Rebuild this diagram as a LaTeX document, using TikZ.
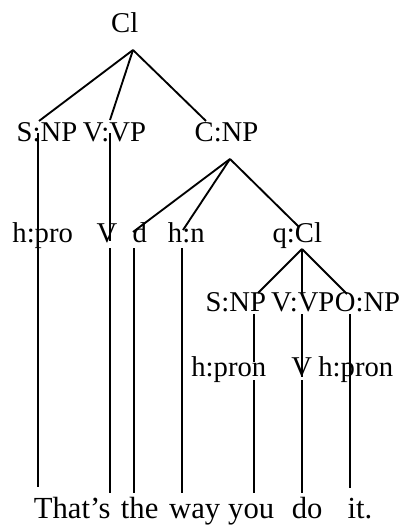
\documentclass[tikz,border=0pt]{standalone}
\usepackage{fontspec}
\setmainfont{Liberation Serif}

\begin{document}
\begin{tikzpicture}
  [x=0.75pt,y=-0.75pt,
   every node/.style={inner sep=0pt,anchor=base,font=\fontsize{21.5}{26}\selectfont},
   connect/.style={line width=1.4pt},
   word/.style={font=\fontsize{23}{28}\selectfont}]
  \useasboundingbox (0,0) rectangle (409,527);

  % main clause
  \node (cl) at (124.7,33) {Cl};
  \node (snp) at (47,141.7) {S:NP};
  \node (vvp) at (114.5,141.7) {V:VP};
  \node (cnp) at (226.5,141.7) {C:NP};
  \coordinate (cl-b) at (133,50);
  \coordinate (snp-t) at (39,121);
  \coordinate (vvp-t) at (110,120);
  \coordinate (cnp-t) at (206,121);
  \path (cl-b) edge [connect] (snp-t)
               edge [connect] (vvp-t)
               edge [connect] (cnp-t);

  % heads and the complement group
  \node (hpro) at (42.7,242.7) {h:pro};
  \node (v1) at (107,242.7) {V};
  \node (d) at (139.7,242.7) {d};
  \node (hn) at (186.3,242.7) {h:n};
  \node (qcl) at (297.3,242.7) {q:Cl};
  \coordinate (cnp-b) at (230,159);
  \coordinate (d-t) at (133,232);
  \coordinate (hn-t) at (183,230);
  \coordinate (qcl-t) at (299,227);
  \path (cnp-b) edge [connect] (d-t)
                edge [connect] (hn-t)
                edge [connect] (qcl-t);

  % embedded clause
  \node (snp2) at (235.8,311.7) {S:NP};
  \node (vvp2) at (302.8,311.7) {V:VP};
  \node (onp) at (367.5,311.7) {O:NP};
  \coordinate (qcl-b) at (302,249);
  \coordinate (snp2-t) at (258,293);
  \coordinate (vvp2-t) at (302,295);
  \coordinate (onp-t) at (347,294);
  \path (qcl-b) edge [connect] (snp2-t)
                edge [connect] (vvp2-t)
                edge [connect] (onp-t);

  \node (hpron1) at (228.8,376.7) {h:pron};
  \node (v2) at (301.7,376.7) {V};
  \node (hpron2) at (355.8,376.7) {h:pron};

  % the sentence
  \node [word] (w1) at (72.2,518.3) {That’s};
  \node [word] (w2) at (139.7,518.3) {the};
  \node [word] (w3) at (194.7,518.3) {way};
  \node [word] (w4) at (251.2,518.3) {you};
  \node [word] (w5) at (307.2,518.3) {do};
  \node [word] (w6) at (360,518.3) {it.};

  % vertical links down to the words
  \coordinate (snp-b) at (38,133);
  \coordinate (w1-t) at (38,487);
  \coordinate (vvp-b) at (110,133);
  \coordinate (v1-t) at (110,241);
  \coordinate (v1-b) at (110,248);
  \coordinate (w1-e) at (110,493);
  \coordinate (d-b) at (134,248);
  \coordinate (w2-t) at (134,493);
  \coordinate (hn-b) at (182,248);
  \coordinate (w3-t) at (182,493);
  \coordinate (snp2-b) at (254,314);
  \coordinate (hpron1-t) at (254,362);
  \coordinate (hpron1-b) at (254,380);
  \coordinate (w4-t) at (254,493);
  \coordinate (vvp2-b) at (302,314);
  \coordinate (v2-t) at (302,377);
  \coordinate (v2-b) at (302,380);
  \coordinate (w5-t) at (302,493);
  \coordinate (onp-b) at (350,314);
  \coordinate (w6-t) at (350,488);
  \path (snp-b) edge [connect] (w1-t)
        (vvp-b) edge [connect] (v1-t)
        (v1-b) edge [connect] (w1-e)
        (d-b) edge [connect] (w2-t)
        (hn-b) edge [connect] (w3-t)
        (snp2-b) edge [connect] (hpron1-t)
        (hpron1-b) edge [connect] (w4-t)
        (vvp2-b) edge [connect] (v2-t)
        (v2-b) edge [connect] (w5-t)
        (onp-b) edge [connect] (w6-t);
\end{tikzpicture}
\end{document}
